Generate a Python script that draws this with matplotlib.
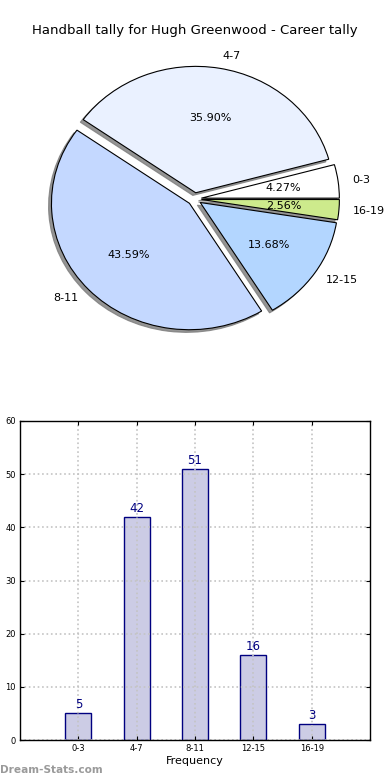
import matplotlib
matplotlib.use("Agg")
import matplotlib.pyplot as plt

TITLE = "Handball tally for Hugh Greenwood - Career tally"
categories = ["0-3", "4-7", "8-11", "12-15", "16-19"]
counts = [5, 42, 51, 16, 3]
pie_colors = ["#ffffff", "#eaf1ff", "#c4d8ff", "#b3d6ff", "#cdea8c"]
explode = [0.05, 0.05, 0.05, 0.05, 0.05]
y_ticks = [0, 10, 20, 30, 40, 50, 60]

W, H = 390, 780
fig = plt.figure(figsize=(W / 100, H / 100), dpi=100)
fig.patch.set_facecolor("white")


def px_axes(left, top, width, height):
    # place an axes using pixel coordinates from the top-left corner
    return fig.add_axes([left / W, 1 - (top + height) / H, width / W, height / H])


# --- pie (not forced round, like the original) ---
ax_pie = px_axes(22, 41, 345, 316)
ax_pie.pie(
    counts,
    labels=categories,
    colors=pie_colors,
    explode=explode,
    autopct="%.2f%%",
    shadow=dict(ox=-0.015, oy=-0.015, facecolor="#7a7a7a",
                edgecolor="#7a7a7a", alpha=0.8),
    startangle=0,
    wedgeprops=dict(edgecolor="black", linewidth=0.8),
    textprops=dict(fontsize=8),
)
ax_pie.set_xlim(-1.25, 1.25)
ax_pie.set_ylim(-1.25, 1.25)
ax_pie.set_aspect("auto")
ax_pie.set_title(TITLE, fontsize=9.5, pad=5)

# --- bar chart ---
ax_bar = px_axes(20, 421, 350, 319)
x = list(range(len(categories)))
bars = ax_bar.bar(x, counts, width=0.45, color=(0, 0, 0.5, 0.2),
                  edgecolor="navy", linewidth=1.0, zorder=2)
for rect, val in zip(bars, counts):
    ax_bar.text(rect.get_x() + rect.get_width() / 2, rect.get_height() + 0.4,
                str(val), ha="center", va="bottom", color="navy", fontsize=8.5,
                zorder=4)

ax_bar.set_xlim(-1, 5)
ax_bar.set_ylim(0, 60)
ax_bar.set_xticks(x)
ax_bar.set_xticklabels(categories)
ax_bar.set_yticks(y_ticks)
ax_bar.set_xlabel("Frequency", fontsize=8, labelpad=2)
ax_bar.tick_params(axis="both", direction="in", labelsize=6, length=3,
                   top=True, right=True, pad=3)
# grid sits on top of the translucent bars, as in the original
ax_bar.set_axisbelow(False)
ax_bar.grid(True, linestyle=":", color="#c4c4c4", linewidth=1.2, zorder=3)
for sp in ax_bar.spines.values():
    sp.set_linewidth(1.0)
    sp.set_zorder(5)

fig.text(0.0, 1 - 770 / H, "Dream-Stats.com", fontsize=7.6, fontweight="bold",
         color="#9a9a9a", ha="left", va="center")

fig.savefig("out.png", dpi=100)
